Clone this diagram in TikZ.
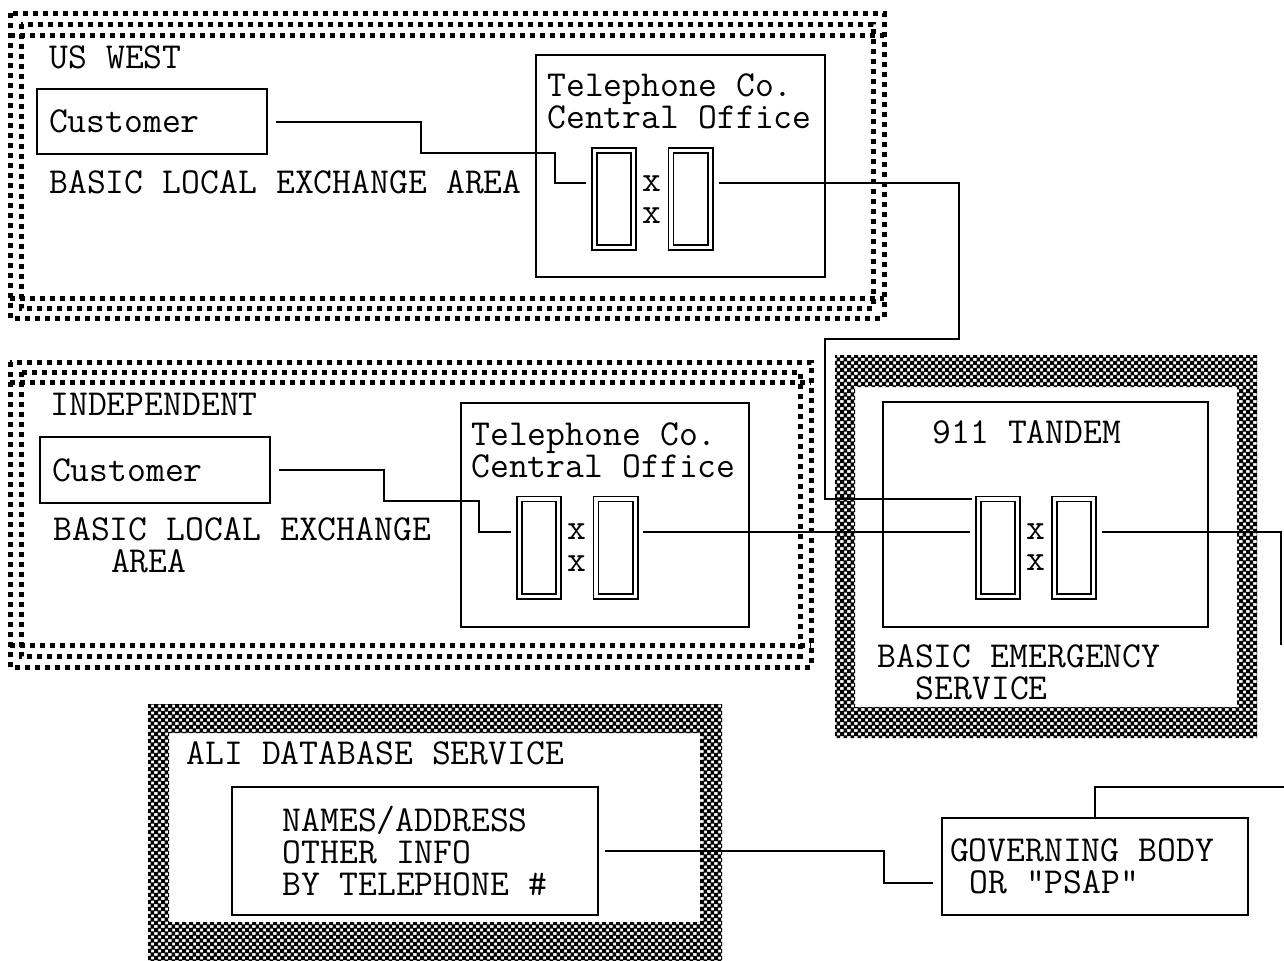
\documentclass[tikz,border=0pt]{standalone}
\usepackage{fontspec}
\usetikzlibrary{patterns, positioning}
\newcommand{\diagfont}{\ttfamily\fontsize{18.3}{16}\selectfont\spaceskip=0.525em\relax}
\pgfdeclarepatternformonly{fine checker}{\pgfqpoint{-0.1pt}{-0.1pt}}{\pgfqpoint{3.6pt}{3.6pt}}{\pgfqpoint{3.5pt}{3.5pt}}{%
    \pgfpathrectangle{\pgfpointorigin}{\pgfqpoint{2.1pt}{2.1pt}}%
    \pgfpathrectangle{\pgfqpoint{1.75pt}{1.75pt}}{\pgfqpoint{2.1pt}{2.1pt}}%
    \pgfusepath{fill}}
\tikzset{
    wire/.style = {draw, line width=1pt},
    box/.style = {draw, line width=1pt, inner sep=0pt, outer sep=0pt},
    switch/.style = {draw, double, line width=0.9pt, double distance=1.6pt, minimum width=19.6pt, minimum height=48.6pt, inner sep=0pt, outer sep=0pt},
    xmark/.style = {inner sep=0pt},
    lbl/.style = {anchor=base west, inner sep=0pt, align=left},
    dotrow/.style = {line width=2.5pt, dash pattern=on 2.5pt off 2.5pt},
    checker/.style = {pattern=fine checker, even odd rule},
}
\begin{document}
\begin{tikzpicture}[x=0.5pt, y=-0.5pt, font=\diagfont]
    \useasboundingbox[fill=white] (0,0) rectangle (1284,960);
    % service areas
    \draw[dotrow] (10,13) rectangle (884,318);
    \draw[dotrow] (21,24) rectangle (873,308);
    \draw[dotrow] (10,35) -- (884,35);
    \draw[dotrow] (10,298) -- (884,298);
    \draw[dotrow] (10,362) rectangle (811,667);
    \draw[dotrow] (21,372) rectangle (800,656);
    \draw[dotrow] (10,382) -- (811,382);
    \draw[dotrow] (10,645) -- (811,645);
    \fill[checker] (835,355) rectangle (1257,738) (855,387) rectangle (1237,707);
    \fill[checker] (148,704) rectangle (722,965) (169,733) rectangle (700,922);
    % US WEST
    \node[lbl] (uswest) at (49,68) {US WEST};
    \node[box, anchor=west, text width=103pt, inner xsep=6pt, minimum height=32.5pt, align=flush left] (cust1) at (37,121.5) {Customer};
    \node[lbl] (area1) at (49,193) {BASIC LOCAL EXCHANGE AREA};
    \node[box, anchor=north west, minimum width=144.5pt, minimum height=111pt] (co1) at (536,55) {};
    \node[lbl] (co1text) at (547,128) {Telephone Co.\\Central Office};
    \node[switch] (sw1l) at (614,199) {};
    \node[switch] (sw1r) at (690.5,199) {};
    \node[xmark] (x1a) at (652,183.5) {x};
    \node[xmark] (x1b) at (652,215.5) {x};
    % INDEPENDENT
    \node[lbl] (indep) at (50,415) {INDEPENDENT};
    \node[box, anchor=west, text width=103pt, inner xsep=6pt, minimum height=33pt, align=flush left] (cust2) at (40,470) {Customer};
    \node[lbl] (area2) at (53,572) {BASIC LOCAL EXCHANGE\\\hspace*{1.575em}AREA};
    \node[box, anchor=north west, minimum width=144pt, minimum height=112pt] (co2) at (461,403) {};
    \node[lbl] (co2text) at (471,477) {Telephone Co.\\Central Office};
    \node[switch] (sw2l) at (539,547.5) {};
    \node[switch] (sw2r) at (615.5,547.5) {};
    \node[xmark] (x2a) at (577,532) {x};
    \node[xmark] (x2b) at (577,564) {x};
    % BASIC EMERGENCY SERVICE
    \node[box, anchor=north west, minimum width=162.5pt, minimum height=112.5pt] (tandem) at (883,402) {};
    \node[lbl] (tandemtext) at (932,443) {911 TANDEM};
    \node[switch] (swtl) at (998,547.5) {};
    \node[switch] (swtr) at (1074,547.5) {};
    \node[xmark] (xta) at (1036,532) {x};
    \node[xmark] (xtb) at (1036,563) {x};
    \node[lbl] (bes) at (877,699) {BASIC EMERGENCY\\\hspace*{1.05em}SERVICE};
    % ALI DATABASE SERVICE
    \node[lbl] (ali) at (186,764) {ALI DATABASE SERVICE};
    \node[box, minimum width=183pt, minimum height=64pt, align=left] (names) at (415,851) {NAMES/ADDRESS\\OTHER INFO\\BY TELEPHONE \#};
    \node[box, minimum height=48.5pt, text width=145pt, inner xsep=4pt, align=flush left] (gov) at (1095,866.5) {GOVERNING BODY\\\hspace*{0.525em}OR "PSAP"};
    % loose ends at the page edge
    \coordinate (edgeA) at (1281,531.5);
    \coordinate (edgeB) at (1281,645);
    \coordinate (edgeC) at (1284,787);
    % trunks
    \draw[wire] ([xshift=4.5pt]cust1.east) -| (421,153) -- (555,153) |- ([xshift=-4pt,yshift=8pt]sw1l.west);
    \draw[wire] ([xshift=4.5pt,yshift=8pt]sw1r.east) -- (959,183) -- (959,339) -- (825,339) |- ([xshift=-3pt,yshift=24.5pt]swtl.west);
    \draw[wire] ([xshift=4.5pt]cust2.east) -| (384,501) -- (479,501) |- ([xshift=-4pt,yshift=8pt]sw2l.west);
    \draw[wire] ([xshift=4pt,yshift=8pt]sw2r.east) -- ([xshift=-4pt,yshift=8pt]swtl.west);
    \draw[wire] ([xshift=4pt,yshift=8pt]swtr.east) -- (edgeA) -- (edgeB);
    \draw[wire] (gov.north) |- (edgeC);
    \draw[wire] ([xshift=3.5pt]names.east) -- (884,851) |- ([xshift=-4.5pt,yshift=-8pt]gov.west);
\end{tikzpicture}
\end{document}
